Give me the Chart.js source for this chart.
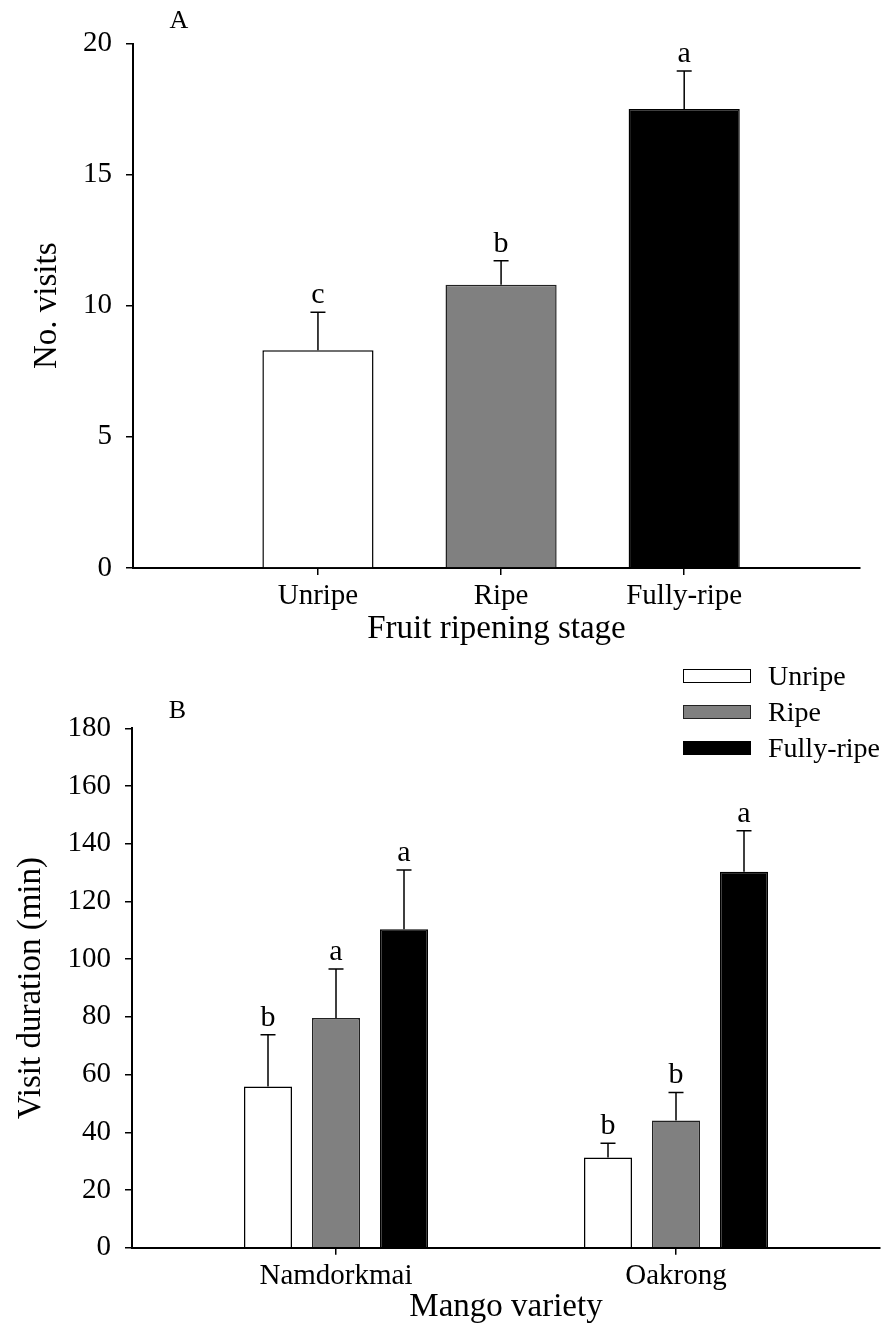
<!DOCTYPE html>
<html lang="en">
<head>
  <meta charset="UTF-8">
  <title>Mango fruit visits</title>
  <script src="https://cdn.jsdelivr.net/npm/chart.js"></script>
  <style>
    body {
      margin: 0;
      background: #fff;
      font-family: "Liberation Serif", "Times New Roman", serif;
      color: #000;
    }
    .page {
      position: relative;
      width: 885px;
      height: 1328px;
    }
    canvas {
      display: block;
    }
    #chart-b {
      position: absolute;
      left: 0;
      top: 650px;
    }
    .legend {
      position: absolute;
      left: 683px;
      top: 658px;
      font-size: 28px;
    }
    .legend-row {
      display: flex;
      align-items: center;
      height: 36px;
    }
    .legend-box {
      width: 68px;
      height: 14px;
      box-sizing: border-box;
      border: 1.5px solid #000;
      margin-right: 17px;
    }
  </style>
</head>
<body>
  <div class="page">
    <canvas id="chart-a" width="885" height="650"></canvas>
    <canvas id="chart-b" width="885" height="678"></canvas>
    <div class="legend" id="legend-b"></div>
  </div>
  <script>
    // panel A - number of visits per ripening stage
    const stageLabels = ['Unripe', 'Ripe', 'Fully-ripe'];
    const visitMeans = [8.3, 10.8, 17.5];
    const visitErrors = [1.45, 0.92, 1.45];
    const visitLetters = ['c', 'b', 'a'];

    // panel B - visit duration per variety
    const varieties = ['Namdorkmai', 'Oakrong'];
    const unripeDuration = [55.9, 31.3];
    const unripeErrors = [17.9, 4.9];
    const unripeLetters = ['b', 'b'];
    const ripeDuration = [79.6, 44.1];
    const ripeErrors = [17.0, 9.7];
    const ripeLetters = ['a', 'b'];
    const fullyDuration = [110.4, 130.3];
    const fullyErrors = [20.5, 14.2];
    const fullyLetters = ['a', 'a'];

    const fills = ['#ffffff', '#808080', '#000000'];
    const edges = ['#000000', '#222222', '#000000'];

    Chart.defaults.font.family = '"Liberation Serif", "Times New Roman", serif';
    Chart.defaults.color = '#000';

    const errorBarPlugin = {
      id: 'errorBars',
      afterDatasetsDraw(chart) {
        const ctx = chart.ctx;
        const yScale = chart.scales.y;
        ctx.save();
        ctx.strokeStyle = '#000';
        ctx.fillStyle = '#000';
        ctx.lineWidth = 1.5;
        ctx.font = '30px "Liberation Serif"';
        ctx.textAlign = 'center';
        ctx.textBaseline = 'alphabetic';
        chart.data.datasets.forEach((ds, di) => {
          chart.getDatasetMeta(di).data.forEach((bar, i) => {
            const top = yScale.getPixelForValue(ds.data[i].y + ds.errors[i]);
            ctx.beginPath();
            ctx.moveTo(bar.x, bar.y);
            ctx.lineTo(bar.x, top);
            ctx.moveTo(bar.x - 7.5, top);
            ctx.lineTo(bar.x + 7.5, top);
            ctx.stroke();
            ctx.fillText(ds.letters[i], bar.x, top - 9);
          });
        });
        ctx.restore();
      }
    };

    const panelLabelPlugin = {
      id: 'panelLabel',
      afterDraw(chart, args, opts) {
        const { ctx, chartArea } = chart;
        ctx.save();
        ctx.font = '26px "Liberation Serif"';
        ctx.fillStyle = '#000';
        ctx.textAlign = 'center';
        ctx.textBaseline = 'middle';
        ctx.fillText(opts.text, chartArea.left + opts.dx, chartArea.top + opts.dy);
        ctx.restore();
      }
    };

    function axisLines() {
      return {
        grid: { offset: false, drawOnChartArea: false, color: '#000', lineWidth: 1.5, tickLength: 7 },
        border: { color: '#000', width: 2 }
      };
    }

    function xAxis(min, max, positions, labels, height, title) {
      return {
        type: 'linear', min, max, offset: false, bounds: 'data',
        afterBuildTicks: s => { s.ticks = positions.map(v => ({ value: v })); },
        afterFit: s => { s.height = height; },
        ...axisLines(),
        ticks: {
          font: { size: 29 }, color: '#000', padding: 4, maxRotation: 0, autoSkip: false,
          callback: v => labels[positions.indexOf(v)]
        },
        title: { display: true, text: title, font: { size: 33 }, color: '#000', padding: { top: 0, bottom: 1 } }
      };
    }

    function yAxis(max, step, width, title, titlePad) {
      return {
        min: 0, max,
        afterFit: s => { s.width = width; },
        ...axisLines(),
        ticks: { stepSize: step, font: { size: 29 }, color: '#000', padding: 14 },
        title: { display: true, text: title, font: { size: 33 }, color: '#000', padding: { top: titlePad, bottom: 0 } }
      };
    }

    // Panel A
    new Chart(document.getElementById('chart-a'), {
      type: 'bar',
      data: {
        datasets: [{
          data: stageLabels.map((s, i) => ({ x: i + 1, y: visitMeans[i] })),
          errors: visitErrors,
          letters: visitLetters,
          backgroundColor: fills,
          borderColor: edges,
          borderWidth: 1.5,
          categoryPercentage: 1,
          barPercentage: 0.607
        }]
      },
      options: {
        responsive: false,
        animation: false,
        layout: { padding: { left: 0, right: 25, top: 43.5, bottom: 0 } },
        plugins: {
          legend: { display: false },
          tooltip: { enabled: false },
          panelLabel: { text: 'A', dx: 46, dy: -22.5 }
        },
        scales: {
          x: xAxis(-0.01, 3.96, [1, 2, 3], stageLabels, 82, 'Fruit ripening stage'),
          y: yAxis(20, 5, 133, 'No. visits', 28)
        }
      },
      plugins: [errorBarPlugin, panelLabelPlugin]
    });

    // Panel B
    const durationSeries = [
      { values: unripeDuration, errors: unripeErrors, letters: unripeLetters },
      { values: ripeDuration, errors: ripeErrors, letters: ripeLetters },
      { values: fullyDuration, errors: fullyErrors, letters: fullyLetters }
    ];

    new Chart(document.getElementById('chart-b'), {
      type: 'bar',
      data: {
        datasets: durationSeries.map((s, k) => ({
          label: stageLabels[k],
          data: varieties.map((v, i) => ({ x: i, y: s.values[i] })),
          errors: s.errors,
          letters: s.letters,
          backgroundColor: fills[k],
          borderColor: edges[k],
          borderWidth: 1.5,
          categoryPercentage: 0.6,
          barPercentage: 0.706
        }))
      },
      options: {
        responsive: false,
        animation: false,
        layout: { padding: { left: 0, right: 5, top: 78.3, bottom: 0 } },
        plugins: {
          legend: { display: false },
          tooltip: { enabled: false },
          panelLabel: { text: 'B', dx: 45.5, dy: -17.3 }
        },
        scales: {
          x: xAxis(-0.6, 1.6, [0, 1], varieties, 80.3, 'Mango variety'),
          y: yAxis(180, 20, 132, 'Visit duration (min)', 12)
        }
      },
      plugins: [errorBarPlugin, panelLabelPlugin]
    });

    // legend for panel B
    const legend = document.getElementById('legend-b');
    stageLabels.forEach((label, k) => {
      const row = document.createElement('div');
      row.className = 'legend-row';
      const box = document.createElement('span');
      box.className = 'legend-box';
      box.style.background = fills[k];
      box.style.borderColor = edges[k];
      row.appendChild(box);
      row.appendChild(document.createTextNode(label));
      legend.appendChild(row);
    });
  </script>
</body>
</html>
